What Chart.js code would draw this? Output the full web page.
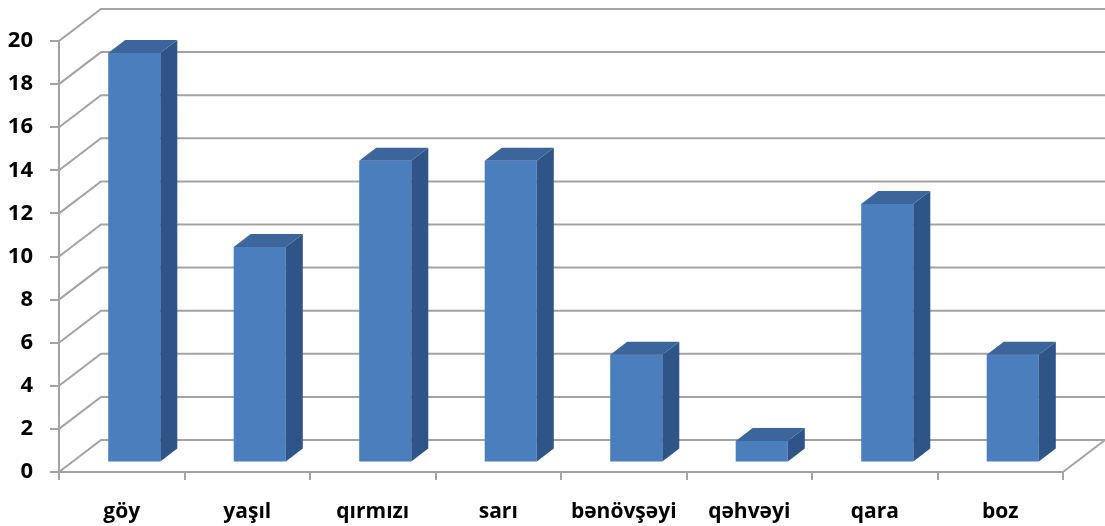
<!DOCTYPE html>
<html>
<head>
<meta charset="utf-8">
<script src="https://cdn.jsdelivr.net/npm/chart.js@4/dist/chart.umd.min.js"></script>
<style>
  html, body { margin: 0; padding: 0; background: #fff; }
  #wrap { width: 1105px; height: 526px; }
</style>
</head>
<body>
<div id="wrap"><canvas id="chart"></canvas></div>
<script>
const categories = ["göy", "yaşıl", "qırmızı", "sarı", "bənövşəyi", "qəhvəyi", "qara", "boz"];
const counts = [19, 10, 14, 14, 5, 1, 12, 5];
const yTicks = [0, 2, 4, 6, 8, 10, 12, 14, 16, 18, 20];

const gridColor = "#a3a3a3";
const faceColor = "#4a7ebd";
const sideColor = "#2f5488";
const topColor = "#3c659c";

// depth of the plot box and of the bars (Excel style 3D)
const wallDx = 42, wallDy = -32;
const barDx = 17, barDy = -13;
const shiftX = (wallDx - barDx) / 2, shiftY = (wallDy - barDy) / 2;

const box3d = {
  id: "box3d",
  beforeDatasetsDraw(chart) {
    const ctx = chart.ctx;
    const area = chart.chartArea;
    const y = chart.scales.y;
    ctx.save();
    ctx.strokeStyle = gridColor;
    ctx.lineWidth = 2;
    yTicks.forEach(v => {
      const py = y.getPixelForValue(v);
      ctx.beginPath();
      ctx.moveTo(area.left, py);
      ctx.lineTo(area.left + wallDx, py + wallDy);
      ctx.lineTo(area.right + wallDx, py + wallDy);
      ctx.stroke();
    });
    // floor right edge
    const y0 = y.getPixelForValue(0);
    ctx.beginPath();
    ctx.moveTo(area.right, y0);
    ctx.lineTo(area.right + wallDx, y0 + wallDy);
    ctx.stroke();
    ctx.restore();

    ctx.save();
    ctx.translate(shiftX, shiftY);
  },
  afterDatasetsDraw(chart) {
    const ctx = chart.ctx;
    const meta = chart.getDatasetMeta(0);
    meta.data.forEach(el => {
      const p = el.getProps(["x", "y", "base", "width"], true);
      const l = p.x - p.width / 2, r = p.x + p.width / 2;
      // side
      ctx.fillStyle = sideColor;
      ctx.beginPath();
      ctx.moveTo(r, p.y);
      ctx.lineTo(r + barDx, p.y + barDy);
      ctx.lineTo(r + barDx, p.base + barDy);
      ctx.lineTo(r, p.base);
      ctx.closePath();
      ctx.fill();
      // top
      ctx.fillStyle = topColor;
      ctx.beginPath();
      ctx.moveTo(l, p.y);
      ctx.lineTo(l + barDx, p.y + barDy);
      ctx.lineTo(r + barDx, p.y + barDy);
      ctx.lineTo(r, p.y);
      ctx.closePath();
      ctx.fill();
    });
    ctx.restore();
  }
};

new Chart(document.getElementById("chart"), {
  type: "bar",
  data: {
    labels: categories,
    datasets: [{
      data: counts,
      backgroundColor: faceColor,
      categoryPercentage: 1,
      barPercentage: 0.415
    }]
  },
  options: {
    responsive: true,
    maintainAspectRatio: false,
    animation: false,
    layout: { padding: { top: 41, right: 42, left: 0, bottom: 0 } },
    plugins: { legend: { display: false }, tooltip: { enabled: false } },
    scales: {
      x: {
        grid: { display: true, drawOnChartArea: false, drawTicks: true, tickLength: 8, color: gridColor, lineWidth: 2, offset: true },
        border: { display: true, color: gridColor, width: 2 },
        ticks: { color: "#000", padding: 19, font: { family: "'Open Sans'", size: 21, weight: "bold" } },
        afterFit(scale) { scale.height = 54; }
      },
      y: {
        min: 0,
        max: 20,
        grid: { display: true, drawOnChartArea: false, drawTicks: true, tickLength: 9, color: gridColor, lineWidth: 2 },
        border: { display: true, color: gridColor, width: 2 },
        ticks: { stepSize: 2, color: "#000", padding: 17, font: { family: "'Open Sans'", size: 22, weight: "bold" } },
        afterFit(scale) { scale.width = 59; }
      }
    }
  },
  plugins: [box3d]
});
</script>
</body>
</html>
